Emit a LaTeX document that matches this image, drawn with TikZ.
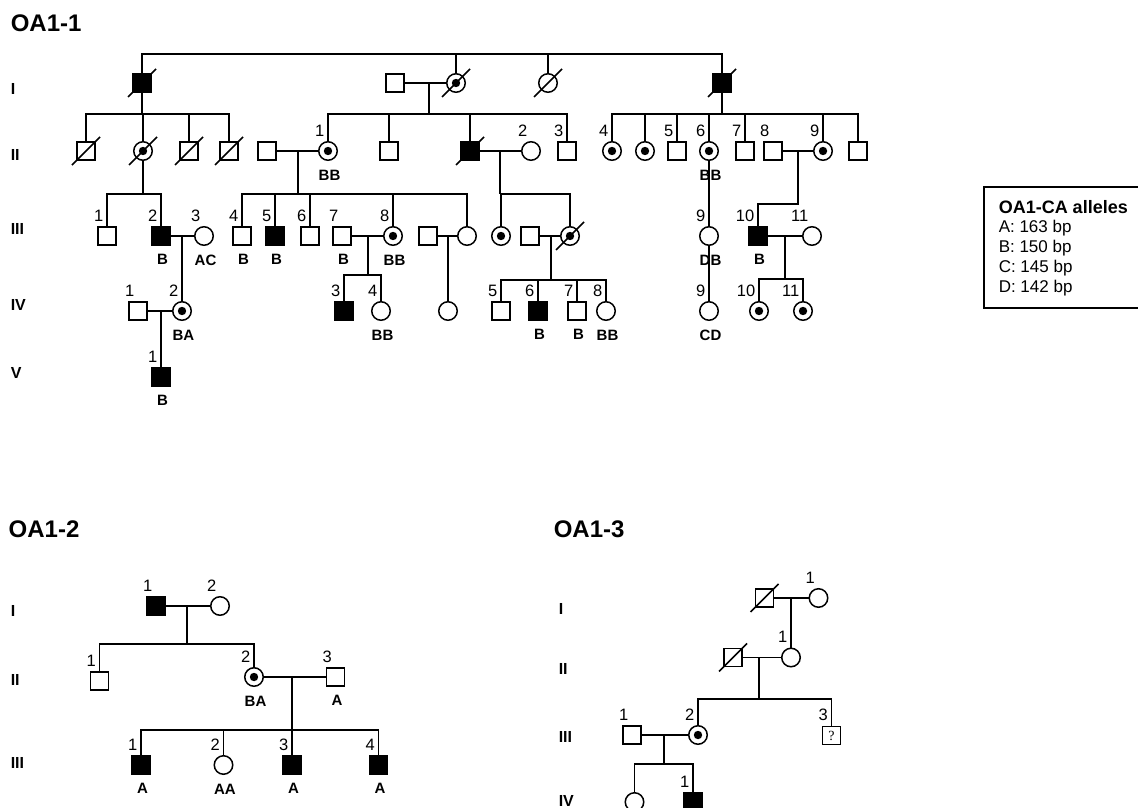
\documentclass[tikz,border=0pt]{standalone}
\usepackage{fontspec}
\setmainfont{Liberation Sans}
\newfontfamily\qfont{Liberation Serif}
\usetikzlibrary{positioning}
\begin{document}
\begin{tikzpicture}[x=1pt,y=-1pt,line width=1.5pt,label distance=3pt,
        ml/.style={rectangle,draw,minimum size=18pt,inner sep=0pt},
        fm/.style={circle,draw,minimum size=18.5pt,inner sep=0pt},
        af/.style={fill=black},
        cr/.style={path picture={\fill (path picture bounding box.center) circle (4.2pt);}},
        num/.style={font=\fontsize{16.5pt}{16.5pt}\selectfont,inner sep=1pt,anchor=south east,xshift=-2pt},
        gtx/.style={font=\bfseries\fontsize{15pt}{15pt}\selectfont,inner sep=1pt,yshift=-4pt,xshift=1.5pt},
        nr/.style={label={[num]above:#1}},
        gt/.style={label={[gtx]below:#1}},
        gen/.style={anchor=west,inner sep=0pt,font=\bfseries\fontsize{16pt}{16pt}\selectfont},
        ttl/.style={anchor=base west,inner sep=0pt,font=\bfseries\fontsize{24pt}{24pt}\selectfont}]
        \useasboundingbox (0,0) rectangle (1138,808);
        % OA1-1
        \node[ttl] (t1) at (10,31.5) {OA1-1};
        \foreach \g/\y in {I/88.5,II/155,III/228.5,IV/305,V/373} \node[gen] (a\g) at (10,\y) {\g};
        % generation I
        \node[ml,af] (ia) at (142,83) {}; \node[ml] (ib) at (395,83) {}; \node[fm,cr] (ic) at (456,83) {};
        \node[fm] (id) at (548,83) {}; \node[ml,af] (ie) at (722,83) {};
        \coordinate (t0) at (456,54); \foreach \n in {ia,ic,id,ie} \draw (\n.north) |- (t0);
        \draw (ib) -- (ic); \coordinate (mb) at (429,83); \coordinate (sb) at (429,114); \draw (mb) -- (sb);
        \coordinate (sa) at (142,114); \draw (ia) -- (sa); \coordinate (se) at (722,114); \draw (ie) -- (se);
        % generation II
        \node[ml] (iia) at (86,151) {}; \node[fm,cr] (iib) at (143,151) {}; \node[ml] (iic) at (189,151) {}; \node[ml] (iid) at (229,151) {};
        \node[ml] (iie) at (267,151) {}; \node[fm,cr,nr=1,gt=BB] (iif) at (328,151) {}; \node[ml] (iig) at (389,151) {};
        \node[ml,af] (iih) at (470,151) {}; \node[fm,nr=2] (iij) at (531,151) {}; \node[ml,nr=3] (iii) at (567,151) {};
        \node[fm,cr,nr=4] (iik) at (612,151) {}; \node[fm,cr] (iil) at (645,151) {}; \node[ml,nr=5] (iim) at (677,151) {};
        \node[fm,cr,nr=6,gt=BB] (iin) at (709,151) {}; \node[ml,nr=7] (iio) at (745,151) {}; \node[ml,nr=8] (iip) at (773,151) {};
        \node[fm,cr,nr=9] (iiq) at (823,151) {}; \node[ml] (iir) at (858,151) {};
        \foreach \n in {iia,iib,iic,iid} \draw (\n.north) |- (sa);
        \foreach \n in {iif,iig,iih,iii} \draw (\n.north) |- (sb);
        \foreach \n in {iik,iil,iim,iin,iio,iiq,iir} \draw (\n.north) |- (se);
        \draw (iie) -- (iif); \coordinate (mc) at (298,151); \coordinate (sc) at (298,194); \draw (mc) -- (sc);
        \draw (iih) -- (iij); \coordinate (md) at (500,151); \coordinate (sd) at (500,194); \draw (md) -- (sd);
        \draw (iip) -- (iiq); \coordinate (mf) at (798,151); \coordinate (sg) at (798,204);
        \coordinate (sf) at (143,194); \draw (iib) -- (sf);
        % generation III
        \node[ml,nr=1] (iiia) at (107,236) {}; \node[ml,af,nr=2,gt=B] (iiib) at (161,236) {}; \node[fm,nr=3,gt=AC] (iiic) at (204,236) {};
        \node[ml,nr=4,gt=B] (iiid) at (242,236) {}; \node[ml,af,nr=5,gt=B] (iiie) at (275,236) {}; \node[ml,nr=6] (iiif) at (310,236) {};
        \node[ml,nr=7,gt=B] (iiig) at (342,236) {}; \node[fm,cr,nr=8,gt=BB] (iiih) at (393,236) {};
        \node[ml] (iiii) at (428,236) {}; \node[fm] (iiij) at (467,236) {};
        \node[fm,cr] (iiik) at (501,236) {}; \node[ml] (iiil) at (530,236) {}; \node[fm,cr] (iiim) at (570,236) {};
        \node[fm,nr=9,gt=DB] (iiin) at (709,236) {}; \node[ml,af,nr=10,gt=B] (iiio) at (758,236) {}; \node[fm,nr=11] (iiip) at (812,236) {};
        \foreach \n in {iiia,iiib} \draw (\n.north) |- (sf);
        \foreach \n in {iiid,iiie,iiif,iiih,iiij} \draw (\n.north) |- (sc);
        \foreach \n in {iiik,iiim} \draw (\n.north) |- (sd);
        \draw (mf) -- (sg) -| (iiio.north); \draw (iin) -- (iiin);
        \draw (iiib) -- (iiic); \coordinate (mg) at (182,236);
        \draw (iiig) -- (iiih); \coordinate (mh) at (368,236); \coordinate (sh) at (368,275); \draw (mh) -- (sh);
        \draw (iiii) -- (iiij); \coordinate (mi) at (448,236);
        \draw (iiil) -- (iiim); \coordinate (mj) at (551,236); \coordinate (sj) at (551,280); \draw (mj) -- (sj);
        \draw (iiio) -- (iiip); \coordinate (mk) at (785,236); \coordinate (sk) at (785,279); \draw (mk) -- (sk);
        % generation IV and V
        \node[ml,nr=1] (iva) at (138,311) {}; \node[fm,cr,nr=2,gt=BA] (ivb) at (182,311) {};
        \node[ml,af,nr=3] (ivc) at (344,311) {}; \node[fm,nr=4,gt=BB] (ivd) at (381,311) {}; \node[fm] (ive) at (448,311) {};
        \node[ml,nr=5] (ivf) at (501,311) {}; \node[ml,af,nr=6,gt=B] (ivg) at (538,311) {}; \node[ml,nr=7,gt=B] (ivh) at (577,311) {};
        \node[fm,nr=8,gt=BB] (ivi) at (606,311) {}; \node[fm,nr=9,gt=CD] (ivj) at (709,311) {};
        \node[fm,cr,nr=10] (ivk) at (759,311) {}; \node[fm,cr,nr=11] (ivl) at (803,311) {};
        \node[ml,af,nr=1,gt=B] (va) at (161,377) {};
        \draw (mg) -- (ivb); \draw (mi) -- (ive); \draw (iiin) -- (ivj);
        \foreach \n in {ivc,ivd} \draw (\n.north) |- (sh);
        \foreach \n in {ivf,ivg,ivh,ivi} \draw (\n.north) |- (sj);
        \foreach \n in {ivk,ivl} \draw (\n.north) |- (sk);
        \draw (iva) -- (ivb); \coordinate (ml1) at (161,311); \draw (ml1) -- (va);
        % legend
        \draw (984,187) rectangle (1140,308);
        \node[anchor=base west,inner sep=0pt,font=\bfseries\fontsize{18pt}{18pt}\selectfont] (lgt) at (998,213) {OA1-CA alleles};
        \foreach \t [count=\i] in {A: 163 bp,B: 150 bp,C: 145 bp,D: 142 bp}
          \node[anchor=base west,inner sep=0pt,font=\fontsize{17pt}{17pt}\selectfont] (lg\i) at (998,212+20*\i) {\t};
        % OA1-2
        \node[ttl] (t2) at (8,537) {OA1-2};
        \foreach \g/\y in {I/611,II/680,III/763} \node[gen] (b\g) at (10,\y) {\g};
        \node[ml,af,nr=1] (pa) at (156,606) {}; \node[fm,nr=2] (pb) at (220,606) {};
        \draw (pa) -- (pb); \coordinate (pm) at (187,606); \coordinate (ps) at (187,644); \draw (pm) -- (ps);
        \node[ml,nr=1] (pc) at (99.5,681) {}; \node[fm,cr,nr=2,gt=BA] (pd) at (254,677) {}; \node[ml,nr=3,gt=A] (pe) at (335.5,677) {};
        \foreach \n in {pc,pd} \draw (\n.north) |- (ps);
        \draw (pd) -- (pe); \coordinate (pn) at (292,677); \coordinate (pt) at (292,730); \draw (pn) -- (pt);
        \node[ml,af,nr=1,gt=A] (pf) at (141,765) {}; \node[fm,nr=2,gt=AA] (pg) at (223.5,765) {};
        \node[ml,af,nr=3,gt=A] (ph) at (292,765) {}; \node[ml,af,nr=4,gt=A] (pi) at (378.5,765) {};
        \foreach \n in {pf,pg,ph,pi} \draw (\n.north) |- (pt);
        % OA1-3
        \node[ttl] (t3) at (553,537) {OA1-3};
        \foreach \g/\y in {I/608.5,II/669,III/737,IV/801} \node[gen] (c\g) at (558,\y) {\g};
        \node[ml] (qa) at (764.5,598) {}; \node[fm,nr=1] (qb) at (818.5,598) {};
        \draw (qa) -- (qb); \coordinate (qm) at (791,598);
        \node[ml] (qc) at (733,657.5) {}; \node[fm,nr=1] (qd) at (791,657.5) {}; \draw (qm) -- (qd);
        \draw (qc) -- (qd); \coordinate (qn) at (759,657.5); \coordinate (qs) at (759,699); \draw (qn) -- (qs);
        \node[ml,nr=1] (qe) at (632,735) {}; \node[fm,cr,nr=2] (qf) at (698,735) {};
        \node[ml,line width=1.2pt,nr=3] (qg) at (831.5,735.5) {\qfont\fontsize{14pt}{14pt}\selectfont ?};
        \foreach \n in {qf,qg} \draw (\n.north) |- (qs);
        \draw (qe) -- (qf); \coordinate (qo) at (664,735); \coordinate (qt) at (664,764); \draw (qo) -- (qt);
        \node[fm] (qh) at (634.5,802) {}; \node[ml,af,nr=1] (qi) at (693,802) {};
        \foreach \n in {qh,qi} \draw (\n.north) |- (qt);
        % deceased
        \foreach \n in {ia,ic,id,ie,iia,iib,iic,iid,iih,iiim,qa,qc}
          \draw ([shift={(-14,14)}]\n.center) -- ([shift={(14,-14)}]\n.center);
      \end{tikzpicture}
\end{document}
